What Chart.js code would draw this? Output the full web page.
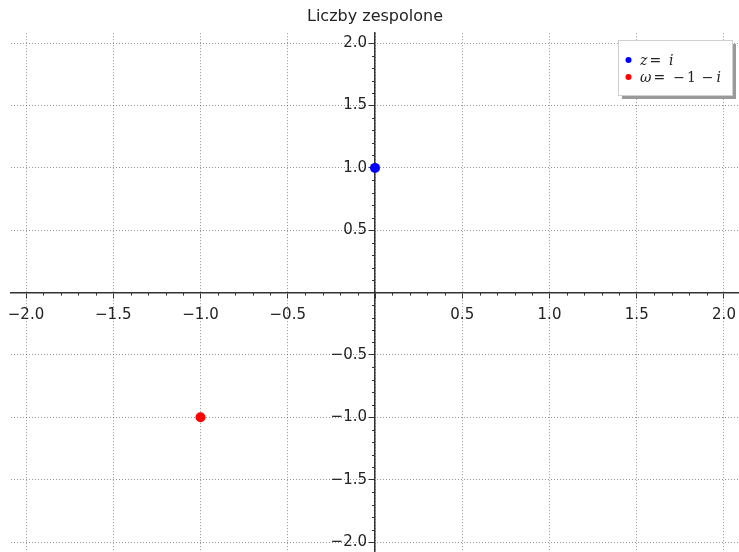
<!DOCTYPE html>
<html>
<head>
<meta charset="utf-8">
<title>Liczby zespolone</title>
<script src="https://cdn.jsdelivr.net/npm/chart.js@4.4.0/dist/chart.umd.min.js"></script>
<style>
  html, body { margin: 0; padding: 0; background: #fff; }
</style>
</head>
<body>
<canvas id="myChart" width="739" height="552"></canvas>
<script>
// points on the complex plane: real part, imaginary part
var pointLabels = ['z = i', 'ω = −1 − i'];
var reValues = [0, -1];
var imValues = [1, -1];
var pointColors = ['#0000ff', '#ff0000'];

// major ticks on both axes (0 is not labelled)
var xTicks = [-2.0, -1.5, -1.0, -0.5, 0, 0.5, 1.0, 1.5, 2.0];
var yTicks = [-2.0, -1.5, -1.0, -0.5, 0, 0.5, 1.0, 1.5, 2.0];
var minorStep = 0.1;

var tickFont = {family: 'DejaVu Sans', size: 15};

function fmt(value) {
  if (value === 0) return '';
  return value.toFixed(1).replace('-', '\u2212');
}

function noPadding(scale) {
  scale.paddingLeft = 0; scale.paddingRight = 0;
  scale.paddingTop = 0; scale.paddingBottom = 0;
}

// small ticks between the labelled ones, and the y labels left of the axis
var axisExtras = {
  id: 'axisExtras',
  beforeDatasetsDraw: function(chart) {
    var ctx = chart.ctx, xs = chart.scales.x, ys = chart.scales.y;
    var x0 = xs.getPixelForValue(0), y0 = ys.getPixelForValue(0);
    ctx.save();
    ctx.strokeStyle = '#333';
    ctx.lineWidth = 1;
    ctx.beginPath();
    for (var i = -20; i <= 20; i++) {
      if (i % 5 === 0) continue;
      var v = i * minorStep;
      var px = Math.round(xs.getPixelForValue(v)) + 0.5;
      ctx.moveTo(px, y0); ctx.lineTo(px, y0 + 3);
      var py = Math.round(ys.getPixelForValue(v)) + 0.5;
      ctx.moveTo(x0, py); ctx.lineTo(x0 - 3, py);
    }
    ctx.stroke();

    ctx.fillStyle = '#222';
    ctx.font = tickFont.size + 'px "' + tickFont.family + '"';
    ctx.textAlign = 'right';
    ctx.textBaseline = 'middle';
    yTicks.forEach(function(v) {
      var t = fmt(v);
      if (t) ctx.fillText(t, x0 - 8, ys.getPixelForValue(v));
    });
    ctx.restore();
  }
};

// legend box in the top right corner, with a shadow
var boxLegend = {
  id: 'boxLegend',
  afterDraw: function(chart) {
    var ctx = chart.ctx;
    var sets = chart.data.datasets;
    var left = 618, top = 40, w = 114, h = 55;
    var gaps = [2, 8, 6, 3];
    ctx.save();
    ctx.fillStyle = '#9a9a9a';
    ctx.fillRect(left + 4, top + 4, w, h);
    ctx.fillStyle = '#fff';
    ctx.fillRect(left, top, w, h);
    ctx.strokeStyle = '#cfcfcf';
    ctx.lineWidth = 1;
    ctx.strokeRect(left + 0.5, top + 0.5, w, h);

    ctx.textBaseline = 'alphabetic';
    for (var i = 0; i < sets.length; i++) {
      var cy = 60 + i * 17;
      ctx.fillStyle = sets[i].backgroundColor;
      ctx.beginPath();
      ctx.arc(628.5, cy, 3, 0, Math.PI * 2);
      ctx.fill();

      ctx.fillStyle = '#222';
      var x = 640;
      var parts = sets[i].label.split(' ');
      for (var p = 0; p < parts.length; p++) {
        var tok = parts[p];
        for (var c = 0; c < tok.length; c++) {
          var ch = tok[c];
          ctx.font = /[a-zω]/.test(ch) ? 'italic 14px "DejaVu Serif"' : '14px "DejaVu Serif"';
          ctx.fillText(ch, x, cy + 5);
          x += ctx.measureText(ch).width + (ch === '\u2212' && tok.length > 1 ? 2 : 0);
        }
        x += gaps[p] || 3;
      }
    }
    ctx.restore();
  }
};

var ctx = document.getElementById('myChart').getContext('2d');
var myChart = new Chart(ctx, {
  type: 'scatter',
  data: {
    datasets: pointLabels.map(function(lbl, i) {
      return {
        label: lbl,
        data: [{x: reValues[i], y: imValues[i]}],
        backgroundColor: pointColors[i],
        borderWidth: 0,
        pointRadius: 5
      };
    })
  },
  options: {
    responsive: false,
    animation: false,
    layout: { autoPadding: false, padding: {left: 11, right: 0, top: 0, bottom: 0} },
    scales: {
      x: {
        type: 'linear',
        min: -2.086, max: 2.086,
        position: {y: 0},
        afterBuildTicks: function(s) { s.ticks = xTicks.map(function(v) { return {value: v}; }); },
        afterFit: noPadding,
        ticks: { callback: fmt, font: tickFont, color: '#222', padding: 9, autoSkip: false, maxRotation: 0 },
        grid: { color: 'rgba(0,0,0,0.42)', lineWidth: 1, tickLength: 5, tickColor: '#333', tickWidth: 1, borderDash: [1, 2] },
        border: { display: true, color: '#333', width: 1.5, dash: [1, 2] }
      },
      y: {
        type: 'linear',
        min: -2.08, max: 2.08,
        position: {x: 0},
        afterBuildTicks: function(s) { s.ticks = yTicks.map(function(v) { return {value: v}; }); },
        afterFit: noPadding,
        ticks: { display: false },
        grid: { color: 'rgba(0,0,0,0.42)', lineWidth: 1, tickLength: 5, tickColor: '#333', tickWidth: 1, borderDash: [1, 2] },
        border: { display: true, color: '#333', width: 1.5, dash: [1, 2] }
      }
    },
    plugins: {
      legend: { display: false },
      tooltip: { enabled: false },
      title: {
        display: true,
        text: 'Liczby zespolone',
        fullSize: false,
        color: '#222',
        font: {family: 'DejaVu Sans', size: 16, weight: 'normal'},
        padding: {top: 7, bottom: 7}
      }
    }
  },
  plugins: [axisExtras, boxLegend]
});
</script>
</body>
</html>
